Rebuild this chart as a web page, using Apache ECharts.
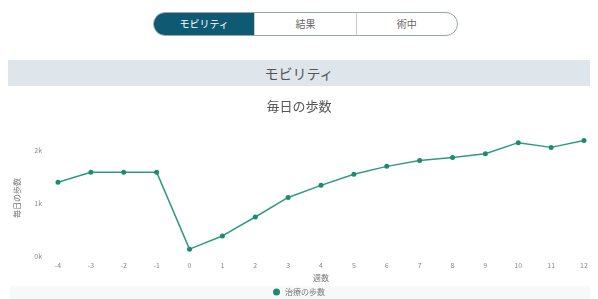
<!DOCTYPE html>
<html>
<head>
<meta charset="utf-8">
<script src="https://cdn.jsdelivr.net/npm/echarts@6/dist/echarts.min.js"></script>
<style>
  html, body { margin:0; padding:0; background:#fff; width:598px; height:299px; overflow:hidden;
    font-family:"Noto Sans CJK JP","Noto Sans",sans-serif; }
  .tabs { position:absolute; left:153px; top:12px; width:305px; height:24px; border:1px solid #9aa4aa;
    border-radius:13px; overflow:hidden; display:flex; box-sizing:border-box; }
  .tabs div { flex:1; text-align:center; line-height:22px; font-size:10px; color:#666; border-left:1px solid #c8cdd0; }
  .tabs div.on { background:#0f5a73; color:#fff; border-left:none; }
  .bar { position:absolute; left:8px; top:60px; width:582px; height:26px; background:#dfe6eb;
    text-align:center; line-height:26px; font-size:14px; color:#555; }
  .foot { position:absolute; left:10px; top:286px; width:580px; height:13px; background:#f7f8f8; }
  #chart { position:absolute; left:0; top:88px; width:598px; height:211px; }
</style>
</head>
<body>
<div class="tabs"><div class="on">モビリティ</div><div>結果</div><div>術中</div></div>
<div class="bar">モビリティ</div>
<div class="foot"></div>
<div id="chart"></div>
<script>
// 週（手術前後）
var weeks = ['-4','-3','-2','-1','0','1','2','3','4','5','6','7','8','9','10','11','12'];
// 毎日の歩数
var steps = [1400, 1590, 1590, 1590, 130, 380, 740, 1110, 1340, 1550, 1700, 1810, 1870, 1940, 2150, 2060, 2190];
var yTicks = [0, 1000, 2000];

var chart = echarts.init(document.getElementById('chart'));
chart.setOption({
  animation: false,
  textStyle: { fontFamily: '"Noto Sans CJK JP","Noto Sans",sans-serif' },
  title: {
    text: '毎日の歩数', left: 'center', top: 7,
    textStyle: { fontSize: 13, fontWeight: 'normal', color: '#555' }
  },
  legend: {
    bottom: -2, left: 'center', itemWidth: 7, itemHeight: 7, icon: 'circle', itemGap: 4,
    textStyle: { fontSize: 8, color: '#777' },
    data: ['治療の歩数']
  },
  grid: { left: 58, right: 14, top: 52, bottom: 43 },
  xAxis: {
    type: 'category', data: weeks, boundaryGap: false,
    name: '週数', nameLocation: 'middle', nameGap: 17,
    nameTextStyle: { fontSize: 8, color: '#777' },
    axisLine: { show: false }, axisTick: { show: false },
    axisLabel: { fontSize: 7, color: '#888', margin: 6 }
  },
  yAxis: {
    type: 'value', min: 0, max: 2200, interval: 1000,
    name: '毎日の歩数', nameLocation: 'middle', nameGap: 37, nameRotate: 90,
    nameTextStyle: { fontSize: 8, color: '#777' },
    axisLine: { show: false }, axisTick: { show: false },
    splitLine: { show: false },
    axisLabel: {
      fontSize: 7, color: '#888', margin: 16, showMaxLabel: false,
      formatter: function (v) { return yTicks.indexOf(v) >= 0 ? (v / 1000) + 'k' : ''; }
    }
  },
  series: [{
    name: '治療の歩数', type: 'line', data: steps,
    symbol: 'circle', symbolSize: 5,
    lineStyle: { color: '#2e9a86', width: 1.5 },
    itemStyle: { color: '#1f8a72' }
  }]
});
</script>
</body>
</html>
